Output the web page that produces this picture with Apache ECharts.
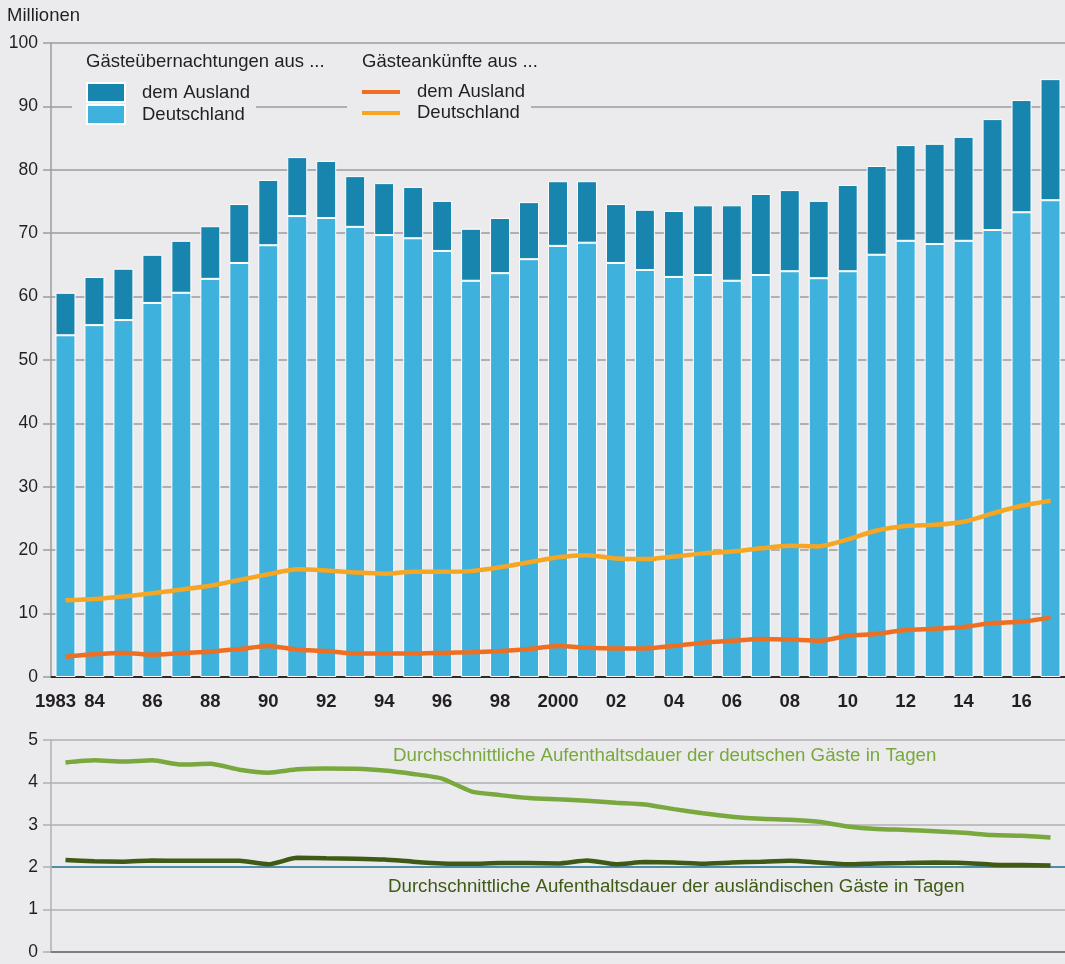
<!DOCTYPE html>
<html>
<head>
<meta charset="utf-8">
<script src="https://cdn.jsdelivr.net/npm/echarts@6/dist/echarts.min.js"></script>
<style>
  html, body { margin: 0; padding: 0; background: #ebebed; }
  #chart { width: 1065px; height: 964px; }
</style>
</head>
<body>
<div id="chart"></div>
<script>
  // Jahre 1983 - 2017
  const years = ['1983', '84', '85', '86', '87', '88', '89', '90', '91', '92', '93', '94', '95', '96', '97', '98', '99',
    '2000', '01', '02', '03', '04', '05', '06', '07', '08', '09', '10', '11', '12', '13', '14', '15', '16', '17']
  const yTicksTop = [0, 10, 20, 30, 40, 50, 60, 70, 80, 90, 100]
  const yTicksBottom = [0, 1, 2, 3, 4, 5]

  // Gästeübernachtungen (Mio.)
  const nightsGermany = [53.9, 55.5, 56.3, 59.0, 60.6, 62.8, 65.3, 68.1, 72.7, 72.4, 71.0, 69.7, 69.2, 67.2, 62.5, 63.7, 65.9,
    68.0, 68.5, 65.3, 64.2, 63.1, 63.4, 62.5, 63.4, 64.0, 62.9, 64.0, 66.6, 68.8, 68.3, 68.8, 70.5, 73.3, 75.2]
  const nightsForeign = [6.7, 7.6, 8.1, 7.6, 8.2, 8.3, 9.3, 10.3, 9.3, 9.0, 8.0, 8.2, 8.1, 7.9, 8.2, 8.7, 9.0,
    10.2, 9.7, 9.3, 9.5, 10.4, 11.0, 11.9, 12.8, 12.8, 12.2, 13.6, 14.0, 15.1, 15.8, 16.4, 17.5, 17.7, 19.1]

  // Gästeankünfte (Mio.)
  const arrivalsGermany = [12.1, 12.3, 12.7, 13.2, 13.8, 14.4, 15.3, 16.2, 17.0, 16.8, 16.5, 16.3, 16.6, 16.6, 16.7, 17.3, 18.1,
    18.9, 19.2, 18.7, 18.6, 19.0, 19.5, 19.8, 20.3, 20.7, 20.6, 21.7, 23.1, 23.8, 24.0, 24.5, 25.8, 27.0, 27.8]
  const arrivalsForeign = [3.2, 3.6, 3.8, 3.5, 3.8, 4.0, 4.4, 4.9, 4.3, 4.1, 3.7, 3.7, 3.7, 3.8, 3.9, 4.1, 4.4,
    4.9, 4.6, 4.5, 4.5, 4.9, 5.4, 5.7, 6.0, 5.9, 5.7, 6.5, 6.8, 7.4, 7.6, 7.9, 8.5, 8.7, 9.4]

  // Aufenthaltsdauer in Tagen
  const stayGermany = [4.47, 4.52, 4.49, 4.52, 4.42, 4.44, 4.30, 4.23, 4.31, 4.33, 4.32, 4.28, 4.20, 4.09, 3.79, 3.70, 3.63,
    3.60, 3.57, 3.52, 3.48, 3.37, 3.27, 3.19, 3.14, 3.12, 3.07, 2.96, 2.90, 2.88, 2.85, 2.81, 2.76, 2.74, 2.70]
  const stayForeign = [2.17, 2.14, 2.13, 2.16, 2.15, 2.15, 2.15, 2.07, 2.22, 2.21, 2.20, 2.18, 2.13, 2.09, 2.08, 2.10, 2.10,
    2.09, 2.16, 2.07, 2.12, 2.11, 2.08, 2.11, 2.13, 2.15, 2.11, 2.07, 2.09, 2.10, 2.11, 2.10, 2.06, 2.05, 2.04]

  const font = '"Liberation Sans", Arial, Helvetica, sans-serif'
  const textColor = '#231f20'
  const gridGray = '#9d9d9f'

  const chart = echarts.init(document.getElementById('chart'))

  const option = {
    backgroundColor: '#ebebed',
    animation: false,
    textStyle: { fontFamily: font, color: textColor },
    grid: [
      { left: 51, top: 43, width: 1023, height: 634 },
      { left: 51, top: 740, width: 1023, height: 212 },
    ],
    xAxis: [
      {
        type: 'category',
        gridIndex: 0,
        data: years,
        axisLine: { lineStyle: { color: '#2b2b2b', width: 2 } },
        axisTick: { show: false },
        axisLabel: {
          interval: (i, v) => i === 0 || (Number(v) % 2 === 0),
          margin: 15,
          color: textColor,
          fontSize: 18.5,
          fontWeight: 'bold',
          fontFamily: font,
          formatter: (v) => (v === '1983' ? '{first|1983}' : v),
          rich: {
            first: { padding: [0, 20, 0, 0], fontSize: 18.5, fontWeight: 'bold', color: textColor, fontFamily: font },
          },
        },
      },
      {
        type: 'category',
        gridIndex: 1,
        data: years,
        axisLine: { lineStyle: { color: '#7d7d7f', width: 2 } },
        axisTick: { show: false },
        axisLabel: { show: false },
      },
    ],
    yAxis: [
      {
        type: 'value',
        gridIndex: 0,
        min: yTicksTop[0],
        max: yTicksTop[yTicksTop.length - 1],
        interval: 10,
        axisLine: { show: true, lineStyle: { color: gridGray, width: 1.5 } },
        axisTick: { show: true, length: 8, lineStyle: { color: gridGray, width: 1.5 } },
        axisLabel: { margin: 13, color: textColor, fontSize: 17.5, fontFamily: font },
        splitLine: { lineStyle: { color: gridGray, width: 1.5 } },
      },
      {
        type: 'value',
        gridIndex: 1,
        min: yTicksBottom[0],
        max: yTicksBottom[yTicksBottom.length - 1],
        interval: 1,
        axisLine: { show: true, lineStyle: { color: '#b0b0b2', width: 1.5 } },
        axisTick: { show: true, length: 8, lineStyle: { color: '#b0b0b2', width: 1.5 } },
        axisLabel: { margin: 13, color: textColor, fontSize: 17.5, fontFamily: font },
        splitLine: {
          lineStyle: {
            color: ['#b0b0b2', '#b0b0b2', '#1d6f93', '#b0b0b2', '#b0b0b2', '#b0b0b2'],
            width: 1.5,
          },
        },
      },
    ],
    legend: [
      {
        data: ['Übernachtungen Ausland', 'Übernachtungen Deutschland'],
        orient: 'vertical',
        left: 72,
        top: 44,
        padding: [38, 6, 6, 14],
        backgroundColor: '#ebebed',
        itemWidth: 38,
        itemHeight: 19,
        itemGap: 1,
        icon: 'rect',
        selectedMode: false,
        formatter: (n) => (n.indexOf('Ausland') > -1 ? 'dem Ausland' : 'Deutschland'),
        textStyle: { fontSize: 18.5, color: textColor, fontFamily: font, padding: [0, 0, 0, 12], lineHeight: 19 },
      },
      {
        data: ['Ankünfte Ausland', 'Ankünfte Deutschland'],
        orient: 'vertical',
        left: 347,
        top: 44,
        padding: [38, 6, 6, 15],
        backgroundColor: '#ebebed',
        itemWidth: 38,
        itemHeight: 4,
        itemGap: 1,
        icon: 'rect',
        selectedMode: false,
        formatter: (n) => (n.indexOf('Ausland') > -1 ? 'dem Ausland' : 'Deutschland'),
        textStyle: { fontSize: 18.5, color: textColor, fontFamily: font, padding: [0, 0, 0, 12], lineHeight: 20 },
      },
    ],
    graphic: [
      { type: 'text', left: 7, top: 6, z: 100, style: { text: 'Millionen', font: '18.5px ' + font, fill: textColor } },
      { type: 'text', left: 86, top: 52, z: 100, style: { text: 'Gästeübernachtungen aus ...', font: '18.5px ' + font, fill: textColor } },
      { type: 'text', left: 362, top: 52, z: 100, style: { text: 'Gästeankünfte aus ...', font: '18.5px ' + font, fill: textColor } },
      { type: 'text', left: 393, top: 746, z: 100, style: { text: 'Durchschnittliche Aufenthaltsdauer der deutschen Gäste in Tagen', font: '18.7px ' + font, fill: '#78a83e' } },
      { type: 'text', left: 388, top: 877, z: 100, style: { text: 'Durchschnittliche Aufenthaltsdauer der ausländischen Gäste in Tagen', font: '18.7px ' + font, fill: '#3e5a14' } },
    ],
    series: [
      {
        name: 'Übernachtungen Deutschland',
        type: 'bar',
        stack: 'nights',
        xAxisIndex: 0,
        yAxisIndex: 0,
        barWidth: 20,
        data: nightsGermany,
        itemStyle: { color: '#3eb1dc', borderColor: '#ffffff', borderWidth: 1 },
      },
      {
        name: 'Übernachtungen Ausland',
        type: 'bar',
        stack: 'nights',
        xAxisIndex: 0,
        yAxisIndex: 0,
        barWidth: 20,
        data: nightsForeign,
        itemStyle: { color: '#1785ad', borderColor: '#ffffff', borderWidth: 1 },
      },
      {
        name: 'Ankünfte Deutschland',
        type: 'line',
        xAxisIndex: 0,
        yAxisIndex: 0,
        data: arrivalsGermany,
        symbol: 'none',
        smooth: 0.25,
        color: '#f6a623',
        lineStyle: { color: '#f6a623', width: 4.5 },
        z: 5,
      },
      {
        name: 'Ankünfte Ausland',
        type: 'line',
        xAxisIndex: 0,
        yAxisIndex: 0,
        data: arrivalsForeign,
        symbol: 'none',
        smooth: 0.25,
        color: '#ee6f22',
        lineStyle: { color: '#ee6f22', width: 4.5 },
        z: 5,
      },
      {
        name: 'Aufenthalt Deutsche',
        type: 'line',
        xAxisIndex: 1,
        yAxisIndex: 1,
        data: stayGermany,
        symbol: 'none',
        smooth: 0.2,
        lineStyle: { color: '#78a83e', width: 4.5 },
      },
      {
        name: 'Aufenthalt Ausländer',
        type: 'line',
        xAxisIndex: 1,
        yAxisIndex: 1,
        data: stayForeign,
        symbol: 'none',
        smooth: 0.2,
        lineStyle: { color: '#3e5a14', width: 4.5 },
      },
    ],
  }

  chart.setOption(option)
</script>
</body>
</html>
